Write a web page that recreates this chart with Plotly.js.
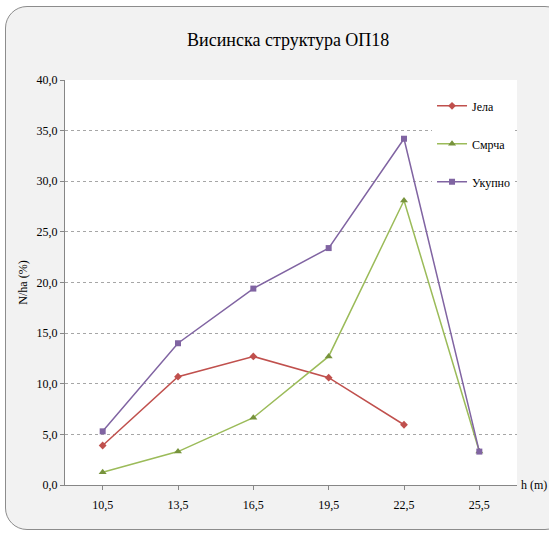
<!DOCTYPE html>
<html>
<head>
<meta charset="utf-8">
<script src="https://cdn.plot.ly/plotly-3.0.1.min.js"></script>
<style>
html,body{margin:0;padding:0;background:#ffffff;width:549px;height:533px;overflow:hidden;}
#frame{position:absolute;left:5px;top:6px;width:560px;height:522px;background:#f2f2f2;border:1px solid #8c8c8c;border-radius:22px;}
#chart{position:absolute;left:0;top:0;width:549px;height:533px;}
</style>
</head>
<body>
<div id="frame"></div>
<div id="chart"></div>
<script>
var categories = ["10,5", "13,5", "16,5", "19,5", "22,5", "25,5"];
var jela = [3.9, 10.7, 12.7, 10.6, 5.95, null];
var smrca = [1.25, 3.3, 6.65, 12.7, 28.1, 3.3];
var ukupno = [5.3, 14.0, 19.4, 23.4, 34.2, 3.3];
var seriesNames = ["Јела", "Смрча", "Укупно"];

var serif = "Liberation Serif";

var traces = [
  {x: categories, y: jela, name: seriesNames[0], type: "scatter", mode: "lines+markers",
   line: {color: "#c0504d", width: 1.5}, marker: {symbol: "diamond", size: 6, color: "#c0504d"},
   legendgroup: "a", connectgaps: false},
  {x: categories, y: smrca, name: seriesNames[1], type: "scatter", mode: "lines+markers",
   line: {color: "#9bbb59", width: 1.5}, marker: {symbol: "triangle-up", size: 7, color: "#77933c"},
   legendgroup: "b"},
  {x: categories, y: ukupno, name: seriesNames[2], type: "scatter", mode: "lines+markers",
   line: {color: "#8064a2", width: 1.5}, marker: {symbol: "square", size: 6, color: "#8064a2"},
   legendgroup: "c"}
];

var layout = {
  width: 549, height: 533,
  paper_bgcolor: "rgba(0,0,0,0)",
  plot_bgcolor: "#ffffff",
  separators: ", ",
  margin: {l: 65, r: 32, t: 80, b: 48},
  font: {family: serif, color: "#000000", size: 12},
  title: {text: "Висинска структура ОП18", font: {family: serif, size: 18, color: "#000"},
          x: 0.525, xanchor: "center", y: 0.925, yanchor: "middle"},
  xaxis: {
    type: "category", range: [-0.5, 5.5],
    showline: true, linecolor: "#868686", linewidth: 1,
    ticks: "outside", ticklen: 4, tickcolor: "#868686",
    showgrid: false, zeroline: false,
    tickfont: {family: serif, size: 12},
    ticklabelstandoff: 5,
    fixedrange: true
  },
  yaxis: {
    range: [0, 40], dtick: 5, tickformat: ".1f",
    showline: true, linecolor: "#868686", linewidth: 1,
    ticks: "outside", ticklen: 4, tickcolor: "#868686",
    showgrid: true, gridcolor: "#a6a6a6", griddash: "dot", gridwidth: 1,
    zeroline: false,
    tickfont: {family: serif, size: 12},
    title: {text: "N/ha (%)", font: {family: serif, size: 12}, standoff: 6},
    fixedrange: true
  },
  legend: {
    x: 0.812, xanchor: "left", y: 0.972, yanchor: "top",
    bgcolor: "#ffffff", borderwidth: 0,
    font: {family: serif, size: 12},
    tracegroupgap: 19,
    itemwidth: 30
  },
  annotations: [
    {text: "h (m)", xref: "paper", yref: "paper", x: 1.005, y: 0, xanchor: "left", yanchor: "middle",
     showarrow: false, font: {family: serif, size: 12}}
  ]
};

Plotly.newPlot("chart", traces, layout, {displayModeBar: false, staticPlot: true});
</script>
</body>
</html>
